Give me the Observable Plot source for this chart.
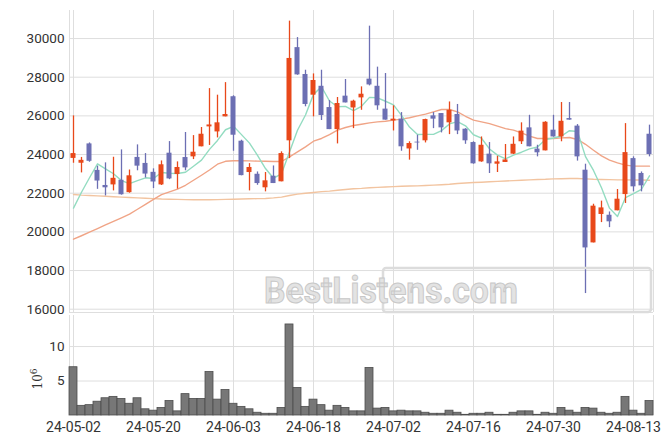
<!DOCTYPE html>
<html>
<head>
<meta charset="utf-8">
<script src="https://cdn.jsdelivr.net/npm/d3@7"></script>
<script src="https://cdn.jsdelivr.net/npm/@observablehq/plot@0.6"></script>
<style>
  html, body { margin: 0; padding: 0; background: #fff; }
  #chart { width: 670px; height: 444px; position: relative; }
  #chart svg { display: block; overflow: visible; }
</style>
</head>
<body>
<div id="chart"></div>
<script>
const dates = ["24-05-02","24-05-03","24-05-07","24-05-08","24-05-09","24-05-10","24-05-13","24-05-14","24-05-16","24-05-17",
"24-05-20","24-05-21","24-05-22","24-05-23","24-05-24","24-05-27","24-05-28","24-05-29","24-05-30","24-05-31",
"24-06-03","24-06-04","24-06-05","24-06-07","24-06-10","24-06-11","24-06-12","24-06-13","24-06-14","24-06-17",
"24-06-18","24-06-19","24-06-20","24-06-21","24-06-24","24-06-25","24-06-26","24-06-27","24-06-28","24-07-01",
"24-07-02","24-07-03","24-07-04","24-07-05","24-07-08","24-07-09","24-07-10","24-07-11","24-07-12","24-07-15",
"24-07-16","24-07-17","24-07-18","24-07-19","24-07-22","24-07-23","24-07-24","24-07-25","24-07-26","24-07-29",
"24-07-30","24-07-31","24-08-01","24-08-02","24-08-05","24-08-06","24-08-07","24-08-08","24-08-09","24-08-12",
"24-08-13","24-08-14","24-08-16"];

const openPrices = [23800,23550,24550,23180,22400,22430,22670,22030,23850,23540,
23080,22430,24070,22970,23845,23880,24400,25430,25170,25950,
26990,24690,23070,22980,22280,22880,22590,24710,29530,28140,
27070,27530,26430,25290,27020,26410,26930,27900,27530,26350,
25740,25830,24290,24640,24710,26000,26120,25640,26070,25310,
24620,23620,24020,23500,23590,24020,24660,25380,24280,24190,
25260,24910,25860,25470,23190,19430,20900,20860,21090,21930,
23790,23020,25050];

const highPrices = [26000,23850,24600,23400,23570,23860,24240,23200,24500,24050,
23260,23670,24670,23620,25140,24980,25400,27410,27070,27720,
27040,24740,23530,23100,23070,23410,24140,30900,30050,28360,
28170,28360,26790,26950,27880,26810,27500,30640,28520,28190,
26520,26170,24660,25000,25830,26170,26120,26720,26590,25340,
24660,24910,24620,23910,24520,24910,25640,26030,24480,25700,
26030,26690,26690,25550,23500,21430,21590,21030,22190,25600,
23880,23100,25520];

const lowPrices = [23550,23050,23600,22200,21860,22120,21900,22000,23160,22790,
22240,22400,22700,22210,23160,23740,24400,24470,24860,25950,
24170,22900,22120,22410,22070,22500,22590,23790,28100,26470,
25950,25760,25290,24550,26670,25340,26290,27550,26290,25780,
25220,24170,23710,24220,24600,25340,25120,25030,25030,24530,
23500,23600,23020,23070,23590,24000,24520,24400,23880,24190,
24900,24660,25780,23660,16810,19430,20480,20220,21090,21470,
22070,22070,23880];

const closePrices = [24050,23700,23650,22630,22280,22770,21920,22900,23400,22990,
22580,23470,22740,23330,23310,24120,25050,25530,25640,26070,
25000,22910,23330,22500,22640,22500,24050,28970,28120,26590,
27830,26020,25290,26640,26670,26760,27120,27600,26520,25780,
25830,24400,24570,24600,25810,25830,25380,26290,25220,24710,
23520,24480,23520,23620,23720,24530,25210,24400,24090,25670,
24910,25720,25780,23880,19170,21330,21240,20520,21690,24100,
22330,22380,24000];

// volume in millions (axis unit 10^6)
const volumes = [7.0,1.4,1.5,2.0,2.5,2.7,2.4,1.7,2.5,0.9,
0.7,1.1,2.1,0.6,3.1,2.4,2.4,6.3,2.3,3.7,
1.7,1.25,0.9,0.4,0.25,0.25,1.1,13.2,4.0,1.25,
2.3,1.5,0.7,1.4,1.1,0.6,0.6,6.9,1.0,1.1,
0.6,0.7,0.6,0.6,0.4,0.25,0.25,0.7,0.4,0.1,
0.25,0.25,0.4,0.1,0.1,0.4,0.6,0.6,0.1,0.4,
0.25,1.1,0.7,0.4,1.1,1.0,0.4,0.25,0.4,2.7,
0.7,0.25,2.1];

const ma5 = [21230,22050,22800,23520,23262,23006,22650,22500,22654,22796,
22758,23068,23036,23022,23086,23394,23710,24268,24730,25282,
25458,25030,24590,23962,23276,22776,23004,24132,25256,26046,
27112,27506,26770,26474,26490,26276,26496,26958,26934,26756,
26570,26026,25420,25036,25042,25042,25238,25582,25706,25486,
25024,24844,24290,23970,23772,23974,24120,24296,24390,24780,
24856,24958,25234,25192,23892,23176,22280,21228,20790,21776,
21976,22204,22900];

const ma20 = [19620,19800,19990,20170,20360,20540,20730,20920,21170,21420,
21680,21930,22070,22210,22410,22670,22930,23200,23500,23650,
23680,23680,23670,23660,23650,23640,23640,23880,24140,24400,
24690,24830,25030,25260,25400,25500,25570,25640,25690,25720,
25780,25830,25900,26000,26090,26210,26330,26330,26210,25980,
25780,25690,25600,25470,25340,25260,25120,24950,24830,24830,
24830,24860,24880,24780,24530,24220,23930,23710,23570,23450,
23400,23400,23400];

const ma60 = [21930,21900,21880,21860,21840,21820,21800,21780,21760,21740,
21720,21700,21690,21680,21670,21660,21660,21660,21670,21680,
21690,21700,21710,21720,21730,21760,21800,21880,21950,22000,
22040,22080,22110,22150,22190,22230,22250,22280,22300,22320,
22340,22360,22370,22380,22400,22420,22440,22460,22500,22530,
22550,22570,22590,22610,22630,22650,22670,22690,22710,22720,
22740,22750,22760,22760,22740,22720,22710,22700,22690,22690,
22680,22680,22670];

const dateTicks = ["24-05-02","24-05-20","24-06-03","24-06-18","24-07-02","24-07-16","24-07-30","24-08-13"];
const priceTicks = [16000,18000,20000,22000,24000,26000,28000,30000];
const volumeTicks = [5,10];

const rows = dates.map((d, i) => ({
  date: d, open: openPrices[i], high: highPrices[i], low: lowPrices[i], close: closePrices[i],
  vol: volumes[i], ma5: ma5[i], ma20: ma20[i], ma60: ma60[i]
}));
const ups = rows.filter(d => d.close >= d.open);
const downs = rows.filter(d => d.close < d.open);

const UP = "#e8481a", DOWN = "#6c6fb3";
const GRID = "#dedede";
const font = {fontFamily: "Roboto, sans-serif", fontSize: "13px", color: "#333", background: "transparent", overflow: "visible"};

const price = Plot.plot({
  width: 670, height: 314,
  marginLeft: 69, marginRight: 17, marginTop: 10, marginBottom: 2,
  style: font,
  x: {type: "band", domain: dates, padding: 0, axis: null},
  y: {domain: [15830, 31450], axis: null},
  marks: [
    Plot.gridY(priceTicks, {stroke: GRID, strokeOpacity: 1}),
    Plot.ruleX(dateTicks, {x: d => d, stroke: GRID}),
    Plot.axisY({ticks: priceTicks, tickFormat: d => String(d), tickSize: 0, tickPadding: 5, fontSize: 13.5, fill: "#333", label: null}),
    Plot.line(rows, {x: "date", y: "ma60", stroke: "#f2c4a0", strokeWidth: 1.4}),
    Plot.line(rows, {x: "date", y: "ma20", stroke: "#f0a486", strokeWidth: 1.4}),
    Plot.line(rows, {x: "date", y: "ma5", stroke: "#93dcc1", strokeWidth: 1.4}),
    Plot.ruleX(ups, {x: "date", y1: "low", y2: "high", stroke: UP, strokeWidth: 1.3}),
    Plot.ruleX(downs, {x: "date", y1: "low", y2: "high", stroke: DOWN, strokeWidth: 1.3}),
    Plot.barY(ups, {x: "date", y1: "open", y2: "close", fill: UP, insetLeft: 1.5, insetRight: 1.5}),
    Plot.barY(downs, {x: "date", y1: "open", y2: "close", fill: DOWN, insetLeft: 1.5, insetRight: 1.5}),
    Plot.ruleX([dates[0]], {x: d => d, dx: -4, stroke: GRID}),
    Plot.ruleX([dates[dates.length - 1]], {x: d => d, dx: 4, stroke: GRID}),
    Plot.ruleY([15830], {stroke: GRID})
  ]
});

const volume = Plot.plot({
  width: 670, height: 130,
  marginLeft: 69, marginRight: 17, marginTop: 1, marginBottom: 29,
  style: font,
  x: {type: "band", domain: dates, padding: 0, axis: null},
  y: {domain: [0, 14.5], axis: null},
  marks: [
    Plot.gridY(volumeTicks, {stroke: GRID, strokeOpacity: 1}),
    Plot.ruleX(dateTicks, {x: d => d, stroke: GRID}),
    Plot.ruleX([dates[0]], {x: d => d, dx: -4, stroke: GRID}),
    Plot.ruleX([dates[dates.length - 1]], {x: d => d, dx: 4, stroke: GRID}),
    Plot.barY(rows, {x: "date", y: "vol", fill: "#777", stroke: "#4d4d4d", strokeWidth: 0.8}),
    Plot.axisY({ticks: volumeTicks, tickFormat: d => String(d), tickSize: 0, tickPadding: 5, fontSize: 13.5, fill: "#333", label: null}),
    Plot.axisX({ticks: dateTicks, tickSize: 0, tickPadding: 7, fontSize: 14, fill: "#333", label: null})
  ]
});

// exponent label for volume axis
const vs = d3.select(volume);
const expo = vs.append("text")
  .attr("transform", "translate(42,65) rotate(-90)")
  .attr("text-anchor", "middle")
  .attr("font-family", "DejaVu Serif, serif")
  .attr("font-size", 12)
  .attr("fill", "#333");
expo.append("tspan").text("10");
expo.append("tspan").attr("dy", -5).attr("font-size", 9).text("6");

// watermark
const ps = d3.select(price);
ps.append("rect").attr("x", 383).attr("y", 268).attr("width", 268).attr("height", 44)
  .attr("rx", 3).attr("fill", "none").attr("stroke", "#dcdcdc").attr("stroke-width", 2.5);
ps.append("text").attr("x", 391).attr("y", 303)
  .attr("font-family", "Roboto, sans-serif").attr("font-weight", "bold").attr("font-size", 36)
  .attr("textLength", 254).attr("lengthAdjust", "spacingAndGlyphs")
  .attr("fill", "#e3e3e3").attr("stroke", "#c8c8c8").attr("stroke-width", 1)
  .text("BestListens.com");

document.getElementById("chart").append(price, volume);
</script>
</body>
</html>
